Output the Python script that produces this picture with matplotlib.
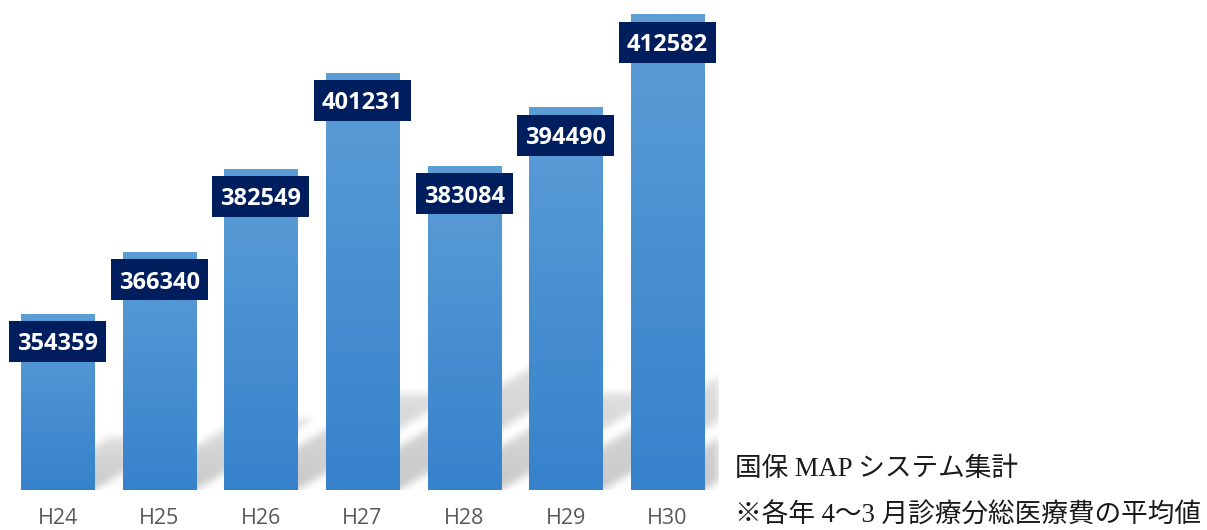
import numpy as np
import matplotlib.pyplot as plt
from matplotlib.patches import Rectangle
from matplotlib.transforms import ScaledTranslation

# Data
years = ["H24", "H25", "H26", "H27", "H28", "H29", "H30"]
costs = [354359, 366340, 382549, 401231, 383084, 394490, 412582]
notes = ["国保 MAP システム集計", "※各年 4～3 月診療分総医療費の平均値"]

# Style
y_min, y_max = 320000, 415400
bar_w = 0.718
top_rgb = np.array([92, 157, 214]) / 255.
bottom_rgb = np.array([54, 130, 203]) / 255.
navy = "#001e5e"
jp_font = ["Liberation Serif", "Noto Sans CJK JP"]

fig = plt.figure(figsize=(12.07, 5.30), dpi=100)
ax = fig.add_axes([6.7 / 1207, 40 / 530, 711.7 / 1207, 490 / 530])
ax.set_xlim(-0.5, len(years) - 0.5)
ax.set_ylim(y_min, y_max)
for s in ax.spines.values():
    s.set_visible(False)
ax.set_yticks([])

x = np.arange(len(years))
bars = ax.bar(x, np.array(costs) - y_min, bottom=y_min, width=bar_w,
              color=bottom_rgb, zorder=2)

# vertical gradient inside each bar
grad = np.linspace(0, 1, 256)[:, None, None]
grad_img = bottom_rgb + (top_rgb - bottom_rgb) * grad
for b in bars:
    x0, y0 = b.get_x(), b.get_y()
    im = ax.imshow(grad_img, extent=(x0, x0 + b.get_width(), y0, y0 + b.get_height()),
                   origin="lower", aspect="auto", zorder=2.1, interpolation="bilinear")
    im.set_clip_path(b)

# skewed soft shadows behind the bars
W, H = int(round(ax.bbox.width)), int(round(ax.bbox.height))
X, Y = np.meshgrid(np.arange(W) + 0.5, np.arange(H) + 0.5)
ox, oy = ax.bbox.x0, ax.bbox.y0
slope = 0.6
mask = np.zeros((H, W))
for b in bars:
    (px0, py0), (px1, py1) = ax.transData.transform(
        [(b.get_x(), b.get_y()), (b.get_x() + b.get_width(), b.get_y() + b.get_height())])
    px0 -= ox
    px1 -= ox
    v = 0.3 * (py1 - py0)
    u = X - Y / slope
    inside = (u >= px0) & (u <= px1) & (Y <= v)
    mask = np.maximum(mask, inside * (1 - 0.4 * Y / v))

sigma = 4.0
k = np.arange(-12, 13)
kern = np.exp(-k ** 2 / (2 * sigma ** 2))
kern /= kern.sum()
mask = np.apply_along_axis(lambda r: np.convolve(r, kern, mode="same"), 1, mask)
mask = np.apply_along_axis(lambda c: np.convolve(c, kern, mode="same"), 0, mask)
shadow = np.zeros((H, W, 4))
shadow[..., 3] = 0.22 * mask
ax.imshow(shadow, extent=(-0.5, len(years) - 0.5, y_min, y_max), origin="lower",
          aspect="auto", zorder=1, interpolation="bilinear")
ax.set_xlim(-0.5, len(years) - 0.5)
ax.set_ylim(y_min, y_max)

# value labels in navy boxes
for i, v in enumerate(costs):
    tr = fig.dpi_scale_trans + ScaledTranslation(i, v, ax.transData)
    ax.add_patch(Rectangle((-0.485, -0.485), 0.97, 0.41, transform=tr,
                           facecolor=navy, edgecolor="none", zorder=3, clip_on=False))
    ax.annotate(str(v), (i, v), xytext=(0, -26.3), textcoords="offset points",
                ha="center", va="baseline", color="white", fontsize=17,
                fontweight="bold", family="Open Sans", zorder=4)

ax.set_xticks(x)
ax.set_xticklabels(years, color="#595959", fontsize=15.5, family="Open Sans")
ax.tick_params(axis="x", length=0, pad=13)

fig.text(735 / 1207, 1 - 469 / 530, notes[0], ha="left", va="center",
         fontsize=19.2, family=jp_font, color="#1a1a1a")
fig.text(735 / 1207, 1 - 516 / 530, notes[1], ha="left", va="center",
         fontsize=19.2, family=jp_font, color="#1a1a1a")

fig.savefig("out.png", dpi=100)
